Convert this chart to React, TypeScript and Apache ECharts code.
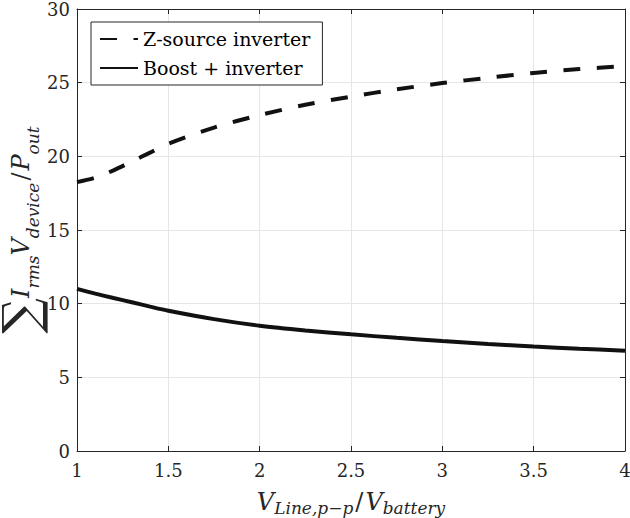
import { useEffect, useRef } from "react";
import * as echarts from "echarts";

// Output-to-battery voltage ratio (x axis)
const ratio = [1, 1.1, 1.2, 1.3, 1.4, 1.5, 1.75, 2, 2.25, 2.5, 2.75, 3, 3.25, 3.5, 3.75, 4];
// Normalised device stress, sum(Irms * Vdevice) / Pout
const zSource = [18.25, 18.55, 19.05, 19.65, 20.25, 20.85, 21.95, 22.8, 23.5, 24.05, 24.55, 24.97, 25.33, 25.66, 25.92, 26.12];
const boostInverter = [11.0, 10.68, 10.38, 10.1, 9.8, 9.52, 8.95, 8.5, 8.18, 7.92, 7.68, 7.47, 7.27, 7.09, 6.94, 6.81];
const seriesNames = ["Z-source inverter", "Boost + inverter"];

const xRange = { min: 1, max: 4, step: 0.5 };
const yRange = { min: 0, max: 30, step: 5 };

const SERIF = "DejaVu Serif";
const INK = "#262626";
const GRID = "#e6e6e6";

// Math-style axis titles: italic symbols with lowered subscripts
const mathRich = {
  sum: { fontFamily: SERIF, fontSize: 50, color: INK, lineHeight: 40, verticalAlign: "middle" as const },
  it: { fontFamily: SERIF, fontStyle: "italic" as const, fontSize: 24, color: INK, lineHeight: 28, verticalAlign: "middle" as const },
  rm: { fontFamily: SERIF, fontSize: 24, color: INK, lineHeight: 28, verticalAlign: "middle" as const, padding: [0, 2, 0, 2] },
  sub: { fontFamily: SERIF, fontStyle: "italic" as const, fontSize: 17, color: INK, lineHeight: 14, verticalAlign: "bottom" as const },
};

function pairs(ys: number[]) {
  return ratio.map((x, i) => [x, ys[i]]);
}

export default function App() {
  const ref = useRef<HTMLDivElement>(null);

  useEffect(() => {
    document.body.style.margin = "0";
    if (!ref.current) return;
    const chart = echarts.init(ref.current, null, { renderer: "svg" });

    const axisCommon = {
      type: "value" as const,
      axisLine: { show: true, onZero: false, lineStyle: { color: INK, width: 1 } },
      axisTick: { show: true, inside: true, length: 5, lineStyle: { color: INK } },
      splitLine: { show: false },
      axisLabel: { show: false },
    };

    chart.setOption({
      animation: false,
      backgroundColor: "#fff",
      textStyle: { fontFamily: SERIF },
      grid: { left: 77, right: 5, top: 9, bottom: 67, containLabel: false, outerBoundsMode: "none" },
      xAxis: [
        {
          ...axisCommon,
          position: "bottom",
          min: xRange.min,
          max: xRange.max,
          interval: xRange.step,
          splitLine: { show: true, lineStyle: { color: GRID, width: 1 } },
          axisLabel: { show: true, fontFamily: SERIF, fontSize: 18, color: INK, margin: 10 },
          name: "{it|V}{sub|Line,p\u2212p}{rm|/}{it|V}{sub|battery}",
          nameLocation: "middle",
          nameGap: 37,
          nameTextStyle: { rich: mathRich },
        },
        {
          ...axisCommon,
          position: "top",
          min: xRange.min,
          max: xRange.max,
          interval: xRange.step,
        },
      ],
      yAxis: [
        {
          ...axisCommon,
          position: "left",
          min: yRange.min,
          max: yRange.max,
          interval: yRange.step,
          splitLine: { show: true, lineStyle: { color: GRID, width: 1 } },
          axisLabel: { show: true, fontFamily: SERIF, fontSize: 18, color: INK, margin: 7 },
          name: "{sum|\u2211}{it|I}{sub|rms}{it|V}{sub|device}{rm|/}{it|P}{sub|out}",
          nameLocation: "middle",
          nameRotate: 90,
          nameGap: 36,
          nameMoveOverlap: false,
          nameTextStyle: { rich: mathRich },
        },
        {
          ...axisCommon,
          position: "right",
          min: yRange.min,
          max: yRange.max,
          interval: yRange.step,
        },
      ],
      legend: {
        left: 91,
        top: 22,
        orient: "vertical",
        backgroundColor: "#fff",
        borderColor: INK,
        borderWidth: 1,
        borderRadius: 0,
        padding: [4, 12, 4, 8],
        itemWidth: 38,
        itemHeight: 14,
        itemGap: 3,
        itemStyle: { color: "rgba(0,0,0,0)", borderColor: "rgba(0,0,0,0)", borderWidth: 0 },
        textStyle: { fontFamily: SERIF, fontSize: 19, color: "#000", lineHeight: 26 },
        data: seriesNames,
      },
      series: [
        {
          name: seriesNames[0],
          type: "line",
          data: pairs(zSource),
          smooth: 0.3,
          symbol: "none",
          lineStyle: { color: "#111", width: 4, type: [17, 16.5], cap: "butt" },
          itemStyle: { color: "#111" },
        },
        {
          name: seriesNames[1],
          type: "line",
          data: pairs(boostInverter),
          smooth: 0.3,
          symbol: "none",
          lineStyle: { color: "#111", width: 4, type: "solid" },
          itemStyle: { color: "#111" },
        },
      ],
    });

    return () => chart.dispose();
  }, []);

  return <div ref={ref} style={{ width: 630, height: 518 }} />;
}
